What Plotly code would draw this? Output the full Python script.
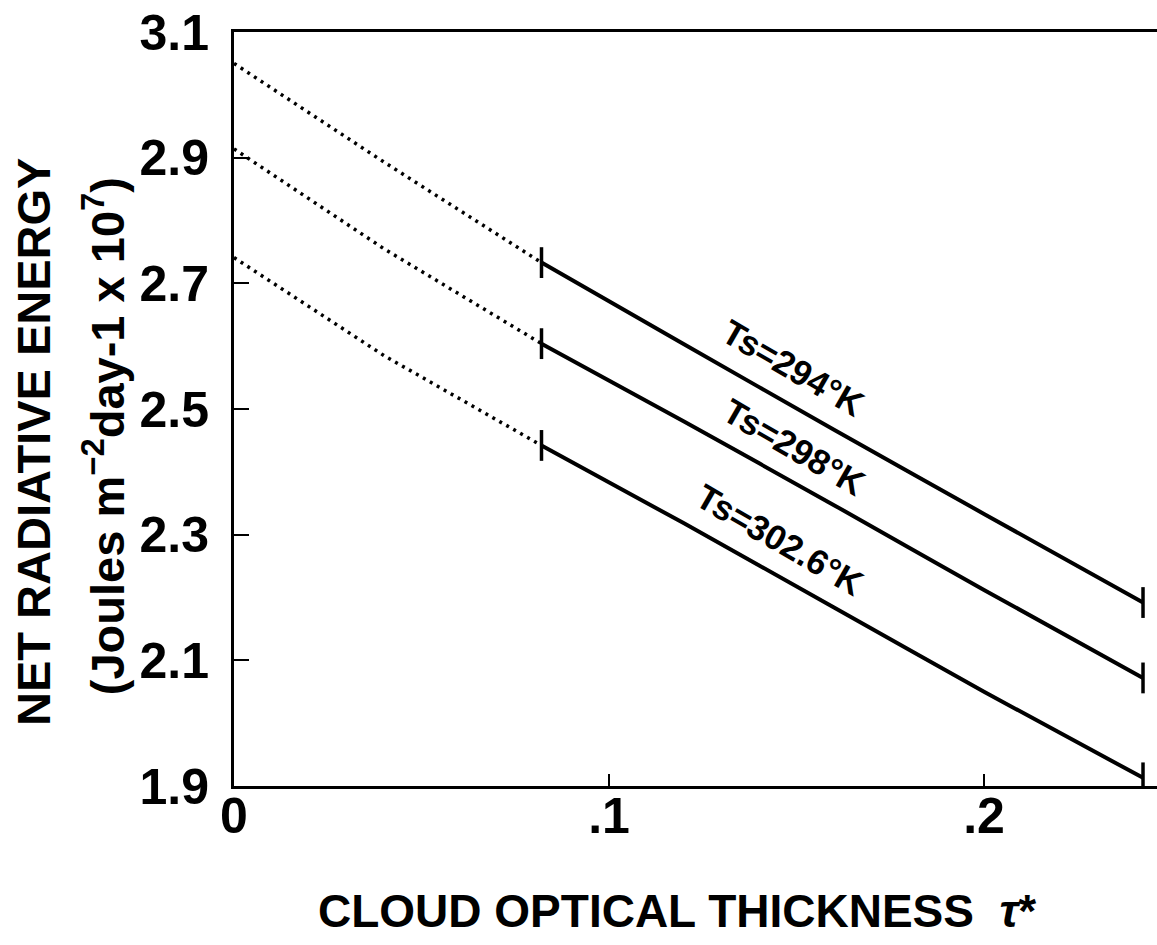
import plotly.graph_objects as go

# ---- data ----
tau_dotted = [0.0, 0.04, 0.082]
tau_solid = [0.082, 0.12, 0.16, 0.20, 0.2424]

series_names = ["Ts=294°K", "Ts=298°K", "Ts=302.6°K"]
dotted_vals = [
    [3.050, 2.893, 2.733],
    [2.914, 2.755, 2.604],
    [2.741, 2.585, 2.442],
]
solid_vals = [
    [2.733, 2.603, 2.467, 2.333, 2.192],
    [2.604, 2.480, 2.347, 2.212, 2.072],
    [2.442, 2.318, 2.184, 2.050, 1.913],
]
label_x = [0.1490, 0.1492, 0.1455]
label_y = [2.566, 2.440, 2.292]

x_tickvals = [0, 0.1, 0.2]
x_ticktext = ["0", ".1", ".2"]
y_tickvals = [1.9, 2.1, 2.3, 2.5, 2.7, 2.9, 3.1]
y_ticktext = ["1.9", "2.1", "2.3", "2.5", "2.7", "2.9", "3.1"]

FONT = "Liberation Sans, Arial, sans-serif"

fig = go.Figure()
for name, dv, sv in zip(series_names, dotted_vals, solid_vals):
    fig.add_trace(go.Scatter(
        x=tau_dotted, y=dv, mode="lines",
        line=dict(color="black", width=3.5, dash="3px,5px"),
        showlegend=False, hoverinfo="skip"))
    fig.add_trace(go.Scatter(
        x=tau_solid, y=sv, mode="lines",
        line=dict(color="black", width=4, shape="spline", smoothing=0.6),
        showlegend=False, name=name))
    # end bars of the solid segment
    fig.add_trace(go.Scatter(
        x=[tau_solid[0], tau_solid[-1]], y=[sv[0], sv[-1]], mode="markers",
        marker=dict(symbol="line-ns-open", size=22, color="black",
                    line=dict(color="black", width=3.5)),
        showlegend=False, hoverinfo="skip"))

for name, lx, ly in zip(series_names, label_x, label_y):
    fig.add_annotation(x=lx, y=ly, xref="x", yref="y", text=name,
                       showarrow=False, textangle=30,
                       xanchor="center", yanchor="middle",
                       font=dict(family=FONT, size=35, color="black", weight="bold"))

# axis titles as annotations
fig.add_annotation(x=-0.2178, y=0.4562, xref="paper", yref="paper",
                   text="NET RADIATIVE ENERGY", textangle=-90, showarrow=False,
                   xanchor="center", yanchor="middle",
                   font=dict(family=FONT, size=47, color="black", weight="bold"))
fig.add_annotation(x=-0.1408, y=0.464, xref="paper", yref="paper",
                   text="(Joules m<sup>−2</sup>day-1 x 10<sup>7</sup>)",
                   textangle=-90, showarrow=False,
                   xanchor="center", yanchor="middle",
                   font=dict(family=FONT, size=47, color="black", weight="bold"))
fig.add_annotation(x=0.48, y=-0.1658, xref="paper", yref="paper",
                   text="CLOUD OPTICAL THICKNESS  <i>τ</i>*", showarrow=False,
                   xanchor="center", yanchor="middle",
                   font=dict(family=FONT, size=46, color="black", weight="bold"))

fig.update_layout(
    width=1157, height=945,
    margin=dict(l=234, r=0, t=32, b=159),
    paper_bgcolor="white", plot_bgcolor="white",
    showlegend=False,
)
fig.update_xaxes(
    range=[0, 0.24613], tickvals=x_tickvals, ticktext=x_ticktext,
    showgrid=False, zeroline=False,
    showline=True, linecolor="black", linewidth=3, mirror=True,
    ticks="inside", ticklen=12, tickwidth=2, tickcolor="black",
    tickfont=dict(family=FONT, size=50, color="black", weight="bold"),
    ticklabelstandoff=-16,
)
fig.update_yaxes(
    range=[1.9, 3.1], tickvals=y_tickvals, ticktext=y_ticktext,
    showgrid=False, zeroline=False,
    showline=True, linecolor="black", linewidth=3, mirror=False,
    ticks="inside", ticklen=15, tickwidth=2, tickcolor="black",
    tickfont=dict(family=FONT, size=50, color="black", weight="bold"),
    ticklabelstandoff=12,
)

fig.write_html("out.html")
